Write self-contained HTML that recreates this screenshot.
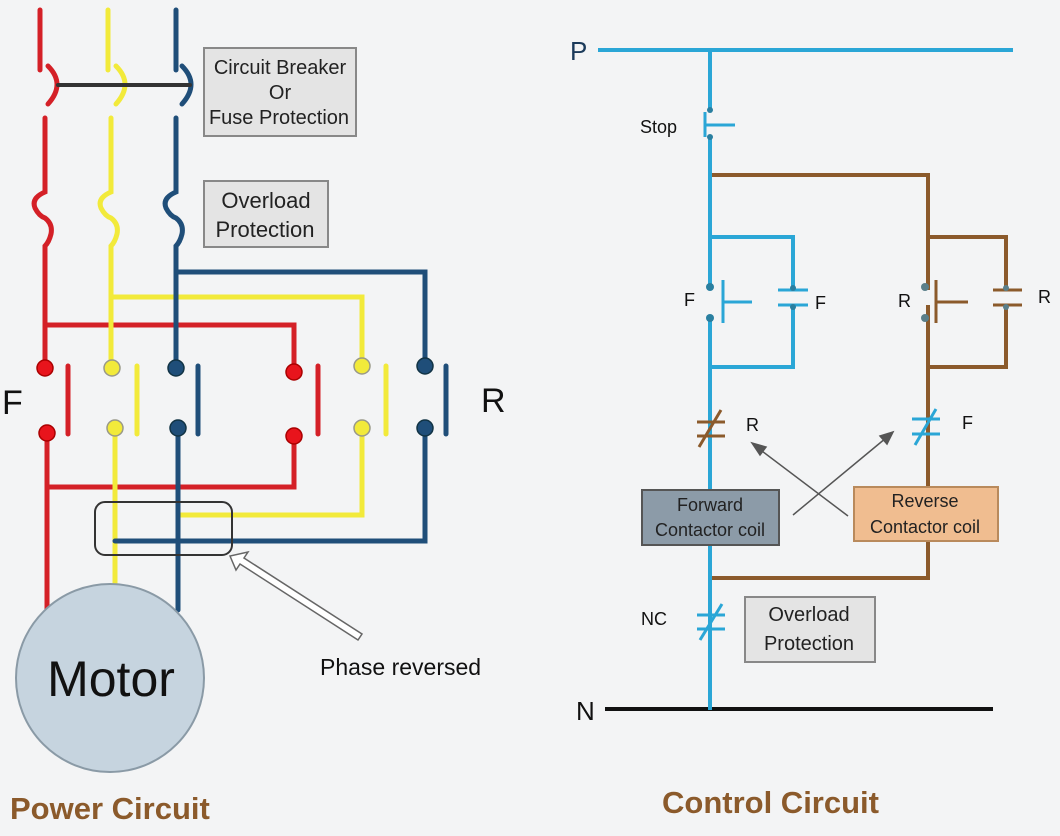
<!DOCTYPE html>
<html><head><meta charset="utf-8"><style>
html,body{margin:0;padding:0;background:#f3f4f5;}
svg{display:block;font-family:"Liberation Sans",sans-serif;}
</style></head><body>
<svg width="1060" height="836" viewBox="0 0 1060 836" xmlns="http://www.w3.org/2000/svg">
<rect width="1060" height="836" fill="#f3f4f5"/>
<g fill="none" stroke-width="5" stroke-linecap="round">
<g stroke="#d42027">
<path d="M40 10V70"/><path d="M48 66Q66 84 48 104"/><path d="M45 118V192 q-14 6 -10 16 q4 8 10 10 q8 6 6 16 q-2 8 -6 12 V368"/>
<path d="M47 432V610"/><path d="M68 366V434"/>
<path d="M46 325H294V368"/><path d="M294 432V487H47"/><path d="M318 366V434"/>
</g>
<g stroke="#f2ea3a">
<path d="M108 10V70"/><path d="M116 66Q134 84 116 104"/><path d="M111 118V192 q-14 6 -10 16 q4 8 10 10 q8 6 6 16 q-2 8 -6 12 V368"/>
<path d="M115 432V585"/><path d="M137 366V434"/>
<path d="M112 297H362V368"/><path d="M362 432V515H178"/><path d="M386 366V434"/>
</g>
<g stroke="#1f4e79">
<path d="M176 10V70"/><path d="M182 66Q200 84 182 104"/><path d="M176 118V192 q-14 6 -10 16 q4 8 10 10 q8 6 6 16 q-2 8 -6 12 V368"/>
<path d="M178 432V610"/><path d="M198 366V434"/>
<path d="M176 272H425V368"/><path d="M425 432V541H115"/><path d="M446 366V434"/>
</g>
<path d="M58 85H190" stroke="#333" stroke-width="4"/>
</g>
<g stroke-width="1.5">
<circle cx="45" cy="368" r="8" fill="#e8141c" stroke="#a00"/><circle cx="47" cy="433" r="8" fill="#e8141c" stroke="#a00"/>
<circle cx="112" cy="368" r="8" fill="#f2ea3a" stroke="#998"/><circle cx="115" cy="428" r="8" fill="#f2ea3a" stroke="#998"/>
<circle cx="176" cy="368" r="8" fill="#1f4e79" stroke="#134"/><circle cx="178" cy="428" r="8" fill="#1f4e79" stroke="#134"/>
<circle cx="294" cy="372" r="8" fill="#e8141c" stroke="#a00"/><circle cx="294" cy="436" r="8" fill="#e8141c" stroke="#a00"/>
<circle cx="362" cy="366" r="8" fill="#f2ea3a" stroke="#998"/><circle cx="362" cy="428" r="8" fill="#f2ea3a" stroke="#998"/>
<circle cx="425" cy="366" r="8" fill="#1f4e79" stroke="#134"/><circle cx="425" cy="428" r="8" fill="#1f4e79" stroke="#134"/>
</g>
<rect x="95" y="502" width="137" height="53" rx="10" fill="none" stroke="#333" stroke-width="2"/>
<path d="M230 556 L236 570 L240 564 L358 640 L362 634 L244 558 L248 552 Z" fill="#fff" stroke="#666" stroke-width="1.5"/>
<rect x="204" y="48" width="152" height="88" fill="#e4e4e4" stroke="#888" stroke-width="2"/>
<text x="280" y="74" font-size="20" text-anchor="middle" fill="#222">Circuit Breaker</text>
<text x="280" y="99" font-size="20" text-anchor="middle" fill="#222">Or</text>
<text x="279" y="124" font-size="20" text-anchor="middle" fill="#222">Fuse Protection</text>
<rect x="204" y="181" width="124" height="66" fill="#e4e4e4" stroke="#888" stroke-width="2"/>
<text x="266" y="208" font-size="22" text-anchor="middle" fill="#222">Overload</text>
<text x="265" y="237" font-size="22" text-anchor="middle" fill="#222">Protection</text>
<text x="2" y="414" font-size="34" fill="#111">F</text>
<text x="481" y="412" font-size="34" fill="#111">R</text>
<text x="320" y="675" font-size="23" fill="#111">Phase reversed</text>
<circle cx="110" cy="678" r="94" fill="#c6d4df" stroke="#8a9aa6" stroke-width="2"/>
<text x="111" y="696" font-size="50" text-anchor="middle" fill="#111">Motor</text>
<text x="10" y="819" font-size="31" font-weight="bold" fill="#8b5a2b">Power Circuit</text>
<text x="662" y="813" font-size="31" font-weight="bold" fill="#8b5a2b">Control Circuit</text>

<g fill="none" stroke-width="4">
<path d="M598 50H1013" stroke="#2aa6d6"/>
<path d="M605 709H993" stroke="#111"/>
<g stroke="#8b5a2b">
<path d="M710 175H928V487"/><path d="M928 237H1006V367H928"/>
<path d="M928 541V578H710"/>
</g>
<g stroke="#2aa6d6">
<path d="M710 50V108"/><path d="M710 138V287"/><path d="M710 318V490"/><path d="M710 545V710"/>
<path d="M710 237H793V367H710"/>
</g>
<path d="M928 290V305" stroke="#f3f4f5"/>
<path d="M793 290V305" stroke="#f3f4f5"/>
<path d="M1006 290V305" stroke="#f3f4f5"/>
</g>
<g fill="none" stroke-width="3">
<g stroke="#2aa6d6"><path d="M705 112V137"/><path d="M705 125H735"/></g>
<g stroke="#2aa6d6"><path d="M723 280V323"/><path d="M723 302H752"/><path d="M778 290H808M778 305H808"/>
<path d="M697 615H725M697 629H725M700 640L722 604"/>
<path d="M912 419H940M912 434H940M915 445L936 409"/></g>
<g stroke="#8b5a2b"><path d="M936 280V323"/><path d="M936 302H968"/><path d="M993 290H1022M993 305H1022"/>
<path d="M697 422H725M697 436H725M699 447L721 410"/></g>
</g>
<g fill="#2a7fa0"><circle cx="710" cy="110" r="3"/><circle cx="710" cy="137" r="3"/><circle cx="710" cy="287" r="4"/><circle cx="710" cy="318" r="4"/><circle cx="793" cy="288" r="3"/><circle cx="793" cy="307" r="3"/></g>
<g fill="#5a7f8a"><circle cx="925" cy="287" r="4"/><circle cx="925" cy="318" r="4"/><circle cx="1006" cy="288" r="3"/><circle cx="1006" cy="307" r="3"/></g>
<g stroke="#555" stroke-width="1.5" fill="#555">
<path d="M793 515L886 438" fill="none"/><path d="M893 432L880 436L887 444Z"/>
<path d="M848 516L758 448" fill="none"/><path d="M752 443L760 455L766 447Z"/>
</g>
<rect x="642" y="490" width="137" height="55" fill="#8c9ba8" stroke="#555" stroke-width="2"/>
<text x="710" y="511" font-size="18" text-anchor="middle" fill="#222">Forward</text>
<text x="710" y="536" font-size="18" text-anchor="middle" fill="#222">Contactor coil</text>
<rect x="854" y="487" width="144" height="54" fill="#f0bd90" stroke="#b98a5c" stroke-width="2"/>
<text x="925" y="507" font-size="18" text-anchor="middle" fill="#222">Reverse</text>
<text x="925" y="533" font-size="18" text-anchor="middle" fill="#222">Contactor coil</text>
<rect x="745" y="597" width="130" height="65" fill="#e4e4e4" stroke="#888" stroke-width="2"/>
<text x="809" y="621" font-size="20" text-anchor="middle" fill="#222">Overload</text>
<text x="809" y="650" font-size="20" text-anchor="middle" fill="#222">Protection</text>
<g font-size="18" fill="#111">
<text x="640" y="133">Stop</text>
<text x="684" y="306">F</text><text x="815" y="309">F</text>
<text x="898" y="307">R</text><text x="1038" y="303">R</text>
<text x="746" y="431">R</text><text x="962" y="429">F</text>
<text x="641" y="625">NC</text>
</g>
<text x="570" y="60" font-size="26" fill="#1b3a5a">P</text>
<text x="576" y="720" font-size="26" fill="#111">N</text>
</svg>
</body></html>
